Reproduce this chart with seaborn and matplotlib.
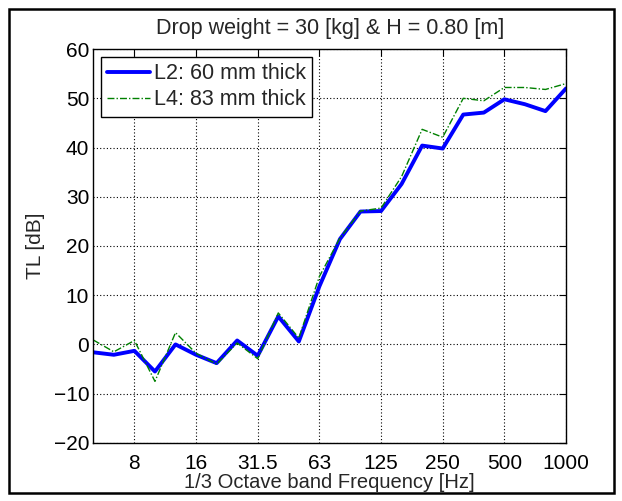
import numpy as np
import pandas as pd
import matplotlib
matplotlib.use("Agg")
import matplotlib.pyplot as plt
import seaborn as sns

bands = ["5", "6.3", "8", "10", "12.5", "16", "20", "25", "31.5", "40", "50", "63",
         "80", "100", "125", "160", "200", "250", "315", "400", "500", "630", "800", "1000"]
tl_l2 = [-1.6, -2.1, -1.3, -5.5, 0.0, -2.1, -3.8, 0.8, -2.3, 5.7, 0.6, 11.8,
         21.4, 27.0, 27.1, 32.6, 40.4, 39.8, 46.7, 47.1, 49.8, 48.8, 47.4, 52.0]
tl_l4 = [0.9, -1.5, 0.8, -7.5, 2.4, -1.8, -4.0, 0.3, -2.9, 6.4, 1.3, 13.8,
         21.6, 27.1, 27.7, 34.1, 43.7, 42.1, 50.0, 49.5, 52.2, 52.2, 51.8, 53.0]
tick_labels = ["8", "16", "31.5", "63", "125", "250", "500", "1000"]
series_names = ["L2: 60 mm thick", "L4: 83 mm thick"]

sns.set_style("white")
plt.rcParams['font.family'] = ['Liberation Sans', 'DejaVu Sans']
FS = 15

idx = np.arange(len(bands))
df = pd.DataFrame({
    "band": np.concatenate([idx, idx]),
    "TL": tl_l2 + tl_l4,
    "series": [series_names[0]] * len(bands) + [series_names[1]] * len(bands),
})

fig = plt.figure(figsize=(6.22, 5.01), dpi=100)
ax = fig.add_axes([0.150, 0.116, 0.760, 0.786])

sns.lineplot(data=df[df.series == series_names[0]], x="band", y="TL", ax=ax,
             color=(0, 0, 1), lw=2.8, label=series_names[0])
sns.lineplot(data=df[df.series == series_names[1]], x="band", y="TL", ax=ax,
             color=(0, 0.5, 0), lw=1.0, ls=(0, (5, 1.5, 1, 1.5)), label=series_names[1])

ax.set_xlim(0, len(bands) - 1)
ax.set_ylim(-20, 60)
ax.set_yticks(np.arange(-20, 61, 10))
ax.set_yticklabels(["\u221220", "\u221210", "0", "10", "20", "30", "40", "50", "60"])
tick_pos = [bands.index(t) for t in tick_labels]
ax.set_xticks(tick_pos)
ax.set_xticklabels(tick_labels)
ax.tick_params(direction="in", top=True, right=True, length=5, width=0.8,
               colors="black", labelsize=FS, pad=3)
ax.tick_params(axis="x", pad=8)
ax.grid(True, color="black", ls=(0, (1, 2)), lw=0.8)
for s in ax.spines.values():
    s.set_color("black")
    s.set_linewidth(1.0)

ax.set_xlabel("1/3 Octave band Frequency [Hz]", fontsize=14.5, labelpad=0)
ax.set_ylabel("TL [dB]", fontsize=FS, labelpad=6)
ax.set_title("Drop weight = 30 [kg] & H = 0.80 [m]", fontsize=15.5, pad=11)

leg = ax.legend(loc="upper left", frameon=True, fancybox=False, fontsize=15.5,
                borderaxespad=0.35, handlelength=2.0, handletextpad=0.15,
                borderpad=0.3, labelspacing=0.25)
leg.get_frame().set_edgecolor("black")
leg.get_frame().set_linewidth(1.0)
leg.get_frame().set_alpha(1)

fig.patches.append(plt.Rectangle((0.014, 0.015), 0.973, 0.968, transform=fig.transFigure,
                                 fill=False, edgecolor="black", lw=1.8))
fig.savefig("out.png", dpi=100, facecolor="white")
